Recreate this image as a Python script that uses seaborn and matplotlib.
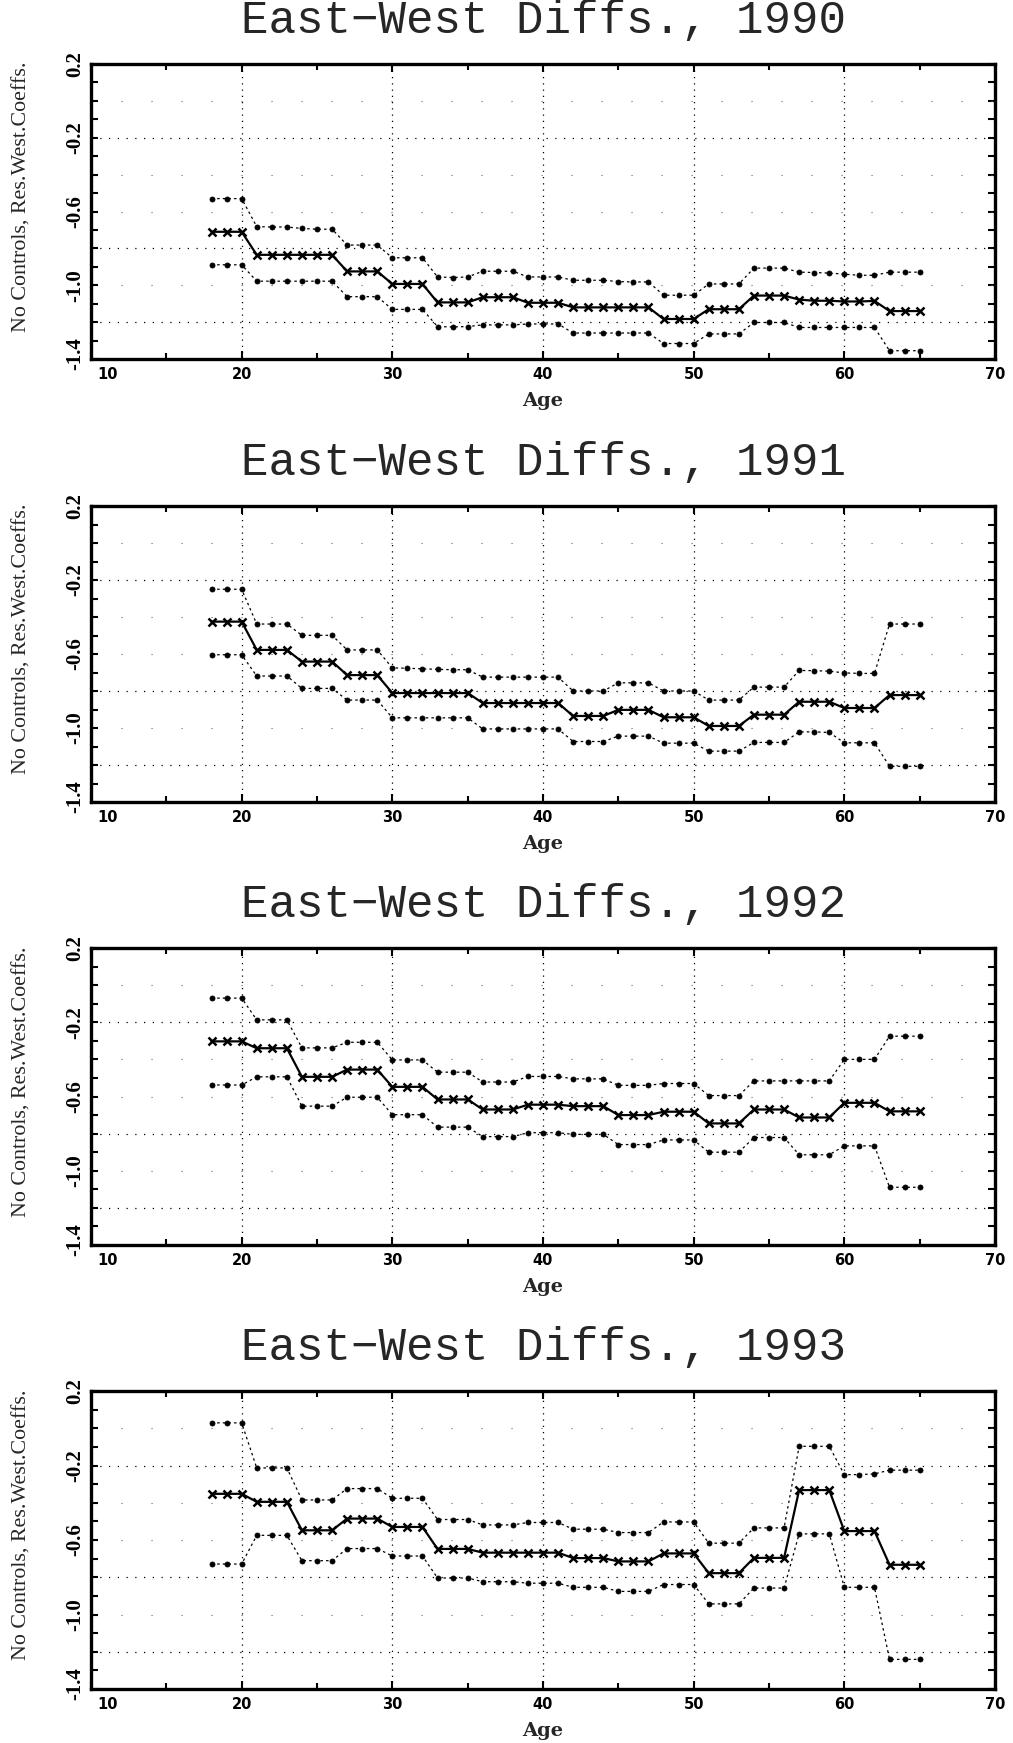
import matplotlib
matplotlib.use("Agg")
import matplotlib.pyplot as plt
from matplotlib.ticker import FixedLocator, MultipleLocator
from matplotlib.transforms import ScaledTranslation
import seaborn as sns

# ---------------------------------------------------------------------------
# East-West wage differentials by age: point estimate with upper/lower bounds
# ---------------------------------------------------------------------------
ages = list(range(18, 66))
years = [1990, 1991, 1992, 1993]

est_1990 = [-0.710, -0.710, -0.710,
            -0.835, -0.835, -0.835, -0.835, -0.835, -0.835,
            -0.925, -0.925, -0.925,
            -0.993, -0.993, -0.993,
            -1.093, -1.093, -1.093,
            -1.065, -1.065, -1.065,
            -1.095, -1.095, -1.095,
            -1.120, -1.120, -1.120, -1.120, -1.120, -1.120,
            -1.183, -1.183, -1.183,
            -1.130, -1.130, -1.130,
            -1.056, -1.056, -1.056,
            -1.078, -1.084, -1.084, -1.088, -1.088, -1.085,
            -1.140, -1.140, -1.140]
upper_1990 = [-0.530, -0.530, -0.530,
              -0.682, -0.684, -0.684, -0.692, -0.696, -0.696,
              -0.782, -0.782, -0.782,
              -0.851, -0.851, -0.851,
              -0.955, -0.958, -0.955,
              -0.924, -0.924, -0.924,
              -0.955, -0.955, -0.955,
              -0.973, -0.973, -0.973, -0.980, -0.982, -0.982,
              -1.054, -1.054, -1.054,
              -0.993, -0.993, -0.993,
              -0.907, -0.907, -0.907,
              -0.929, -0.931, -0.934, -0.940, -0.946, -0.946,
              -0.929, -0.929, -0.929]
lower_1990 = [-0.889, -0.889, -0.889,
              -0.978, -0.978, -0.978, -0.978, -0.978, -0.978,
              -1.062, -1.062, -1.062,
              -1.131, -1.131, -1.131,
              -1.224, -1.226, -1.224,
              -1.215, -1.215, -1.215,
              -1.210, -1.210, -1.210,
              -1.259, -1.259, -1.259, -1.259, -1.259, -1.259,
              -1.316, -1.316, -1.316,
              -1.264, -1.264, -1.264,
              -1.202, -1.202, -1.202,
              -1.229, -1.229, -1.229, -1.229, -1.229, -1.229,
              -1.355, -1.355, -1.355]

est_1991 = [-0.425, -0.425, -0.425,
            -0.578, -0.578, -0.578,
            -0.641, -0.641, -0.641,
            -0.714, -0.714, -0.714,
            -0.811, -0.811, -0.811, -0.811, -0.811, -0.811,
            -0.865, -0.865, -0.865, -0.865, -0.865, -0.865,
            -0.935, -0.935, -0.935,
            -0.902, -0.902, -0.902,
            -0.942, -0.942, -0.942,
            -0.989, -0.989, -0.989,
            -0.928, -0.928, -0.928,
            -0.858, -0.858, -0.858,
            -0.892, -0.892, -0.892,
            -0.822, -0.822, -0.822]
upper_1991 = [-0.250, -0.250, -0.250,
              -0.438, -0.438, -0.438,
              -0.499, -0.499, -0.499,
              -0.578, -0.578, -0.578,
              -0.675, -0.677, -0.680, -0.683, -0.685, -0.685,
              -0.725, -0.725, -0.725, -0.725, -0.725, -0.725,
              -0.800, -0.800, -0.800,
              -0.756, -0.756, -0.756,
              -0.800, -0.800, -0.800,
              -0.849, -0.849, -0.849,
              -0.779, -0.779, -0.779,
              -0.689, -0.690, -0.693,
              -0.702, -0.705, -0.705,
              -0.438, -0.438, -0.438]
lower_1991 = [-0.604, -0.604, -0.604,
              -0.719, -0.719, -0.719,
              -0.786, -0.786, -0.786,
              -0.849, -0.849, -0.849,
              -0.945, -0.945, -0.945, -0.945, -0.945, -0.945,
              -1.005, -1.005, -1.005, -1.005, -1.005, -1.005,
              -1.073, -1.073, -1.073,
              -1.044, -1.044, -1.044,
              -1.082, -1.082, -1.082,
              -1.125, -1.125, -1.125,
              -1.078, -1.078, -1.078,
              -1.021, -1.021, -1.024,
              -1.080, -1.080, -1.080,
              -1.207, -1.207, -1.207]

est_1992 = [-0.303, -0.303, -0.303,
            -0.340, -0.340, -0.340,
            -0.494, -0.494, -0.494,
            -0.455, -0.455, -0.455,
            -0.548, -0.548, -0.548,
            -0.616, -0.616, -0.616,
            -0.670, -0.670, -0.670,
            -0.644, -0.644, -0.644,
            -0.652, -0.652, -0.652,
            -0.700, -0.700, -0.700,
            -0.682, -0.682, -0.682,
            -0.745, -0.745, -0.745,
            -0.670, -0.670, -0.670,
            -0.713, -0.713, -0.713,
            -0.634, -0.634, -0.634,
            -0.680, -0.680, -0.680]
upper_1992 = [-0.070, -0.070, -0.070,
              -0.187, -0.187, -0.187,
              -0.338, -0.338, -0.338,
              -0.308, -0.308, -0.308,
              -0.403, -0.403, -0.403,
              -0.469, -0.469, -0.469,
              -0.522, -0.522, -0.522,
              -0.492, -0.492, -0.492,
              -0.505, -0.505, -0.505,
              -0.540, -0.540, -0.540,
              -0.530, -0.530, -0.530,
              -0.595, -0.595, -0.595,
              -0.516, -0.516, -0.516,
              -0.516, -0.516, -0.516,
              -0.400, -0.400, -0.400,
              -0.275, -0.275, -0.275]
lower_1992 = [-0.538, -0.538, -0.538,
              -0.494, -0.494, -0.494,
              -0.652, -0.652, -0.652,
              -0.604, -0.604, -0.604,
              -0.698, -0.698, -0.698,
              -0.765, -0.765, -0.765,
              -0.816, -0.816, -0.816,
              -0.795, -0.795, -0.795,
              -0.804, -0.804, -0.804,
              -0.859, -0.859, -0.859,
              -0.834, -0.834, -0.834,
              -0.900, -0.900, -0.900,
              -0.821, -0.821, -0.821,
              -0.914, -0.914, -0.914,
              -0.866, -0.866, -0.866,
              -1.089, -1.089, -1.089]

est_1993 = [-0.352, -0.352, -0.352,
            -0.395, -0.395, -0.395,
            -0.548, -0.548, -0.548,
            -0.485, -0.485, -0.485,
            -0.530, -0.530, -0.530,
            -0.648, -0.648, -0.648,
            -0.668, -0.668, -0.668,
            -0.668, -0.668, -0.668,
            -0.697, -0.697, -0.697,
            -0.715, -0.715, -0.715,
            -0.672, -0.672, -0.672,
            -0.778, -0.778, -0.778,
            -0.696, -0.696, -0.696,
            -0.332, -0.332, -0.332,
            -0.552, -0.552, -0.552,
            -0.733, -0.733, -0.733]
upper_1993 = [0.029, 0.029, 0.029,
              -0.213, -0.213, -0.213,
              -0.385, -0.385, -0.385,
              -0.324, -0.324, -0.324,
              -0.376, -0.376, -0.376,
              -0.490, -0.490, -0.490,
              -0.519, -0.519, -0.519,
              -0.506, -0.506, -0.506,
              -0.542, -0.542, -0.542,
              -0.560, -0.560, -0.560,
              -0.503, -0.503, -0.503,
              -0.617, -0.617, -0.617,
              -0.535, -0.535, -0.535,
              -0.097, -0.097, -0.097,
              -0.249, -0.249, -0.245,
              -0.225, -0.225, -0.225]
lower_1993 = [-0.729, -0.729, -0.729,
              -0.575, -0.575, -0.575,
              -0.711, -0.711, -0.711,
              -0.646, -0.646, -0.646,
              -0.686, -0.686, -0.686,
              -0.804, -0.804, -0.804,
              -0.824, -0.824, -0.824,
              -0.832, -0.832, -0.832,
              -0.854, -0.854, -0.854,
              -0.876, -0.876, -0.876,
              -0.839, -0.839, -0.839,
              -0.943, -0.943, -0.943,
              -0.858, -0.858, -0.858,
              -0.567, -0.567, -0.567,
              -0.854, -0.854, -0.854,
              -1.241, -1.241, -1.241]

estimates = {1990: est_1990, 1991: est_1991, 1992: est_1992, 1993: est_1993}
uppers = {1990: upper_1990, 1991: upper_1991, 1992: upper_1992, 1993: upper_1993}
lowers = {1990: lower_1990, 1991: lower_1991, 1992: lower_1992, 1993: lower_1993}

x_ticks = [10, 20, 30, 40, 50, 60, 70]
x_tick_labels = ["10", "20", "30", "40", "50", "60", "70"]
y_ticks = [0.2, -0.2, -0.6, -1.0, -1.4]
y_tick_labels = ["0.2", "-0.2", "-0.6", "-1.0", "-1.4"]
strong_grid_y = [-0.2, -0.8, -1.2]
faint_grid_y = [0.0, -0.4, -0.6, -1.0]
grid_x = [20, 30, 40, 50, 60]

title_text = "East\u2212West Diffs., {}"
y_label = "No Controls, Res.West.Coeffs."
x_label = "Age"

# ---------------------------------------------------------------------------
sns.set_style("ticks")
plt.rcParams["font.family"] = ["DejaVu Sans"]
plt.rcParams["axes.edgecolor"] = "black"

W, H = 1013, 1743
fig = plt.figure(figsize=(W / 100, H / 100), dpi=100)
fig.patch.set_facecolor("white")

panel_rows = [(64, 359), (506, 802), (948, 1245), (1391, 1689)]
left_px, right_px = 91, 995

for year, (top, bot) in zip(years, panel_rows):
    ax = fig.add_axes([left_px / W, 1 - bot / H,
                       (right_px - left_px) / W, (bot - top) / H])
    ax.set_facecolor("white")

    # dotted reference grid
    for gx in grid_x:
        ax.axvline(gx, color="black", lw=0.9, ls=(0, (1, 4)), zorder=1)
    for gy in strong_grid_y:
        ax.axhline(gy, color="black", lw=0.9, ls=(0, (1, 6)), zorder=1)
    for gy in faint_grid_y:
        ax.axhline(gy, color="0.4", lw=0.8, ls=(0, (1, 26)), zorder=1)

    # confidence bounds
    for band in (uppers[year], lowers[year]):
        sns.lineplot(x=ages, y=band, ax=ax, estimator=None, sort=False,
                     color="black", linewidth=0.9, linestyle=(0, (2, 2.5)),
                     marker="o", markersize=3.6, markeredgecolor="black",
                     markeredgewidth=0.6, zorder=3)
    # point estimate
    sns.lineplot(x=ages, y=estimates[year], ax=ax, estimator=None, sort=False,
                 color="black", linewidth=1.6, marker="x", markersize=6,
                 markeredgecolor="black", markeredgewidth=1.8, zorder=4)

    ax.set_xlim(10, 70)
    ax.set_ylim(-1.4, 0.2)

    ax.xaxis.set_major_locator(FixedLocator(x_ticks))
    ax.xaxis.set_minor_locator(MultipleLocator(5))
    ax.set_xticklabels(x_tick_labels, fontsize=10.5, fontweight="bold",
                       family=["DejaVu Sans"])
    ax.yaxis.set_major_locator(FixedLocator(y_ticks))
    ax.yaxis.set_minor_locator(MultipleLocator(0.1))
    ax.set_yticklabels(y_tick_labels, rotation=90, va="center",
                       fontsize=15, fontweight="bold",
                       family=["Liberation Serif", "DejaVu Serif"])

    ax.tick_params(axis="both", which="both", direction="in",
                   top=True, right=True, colors="black")
    ax.tick_params(axis="x", which="major", length=6, width=1.5, pad=6)
    ax.tick_params(axis="x", which="minor", length=4, width=1.5)
    ax.tick_params(axis="y", which="both", length=5, width=1.5, pad=4)

    # the corner label "10" sits just right of the corner, clear of "-1.4"
    first_x = ax.get_xticklabels()[0]
    first_x.set_transform(first_x.get_transform() +
                          ScaledTranslation(12 / 72, 0, fig.dpi_scale_trans))
    # "-1.4" rides slightly above the bottom corner
    last_y = ax.get_yticklabels()[-1]
    last_y.set_transform(last_y.get_transform() +
                         ScaledTranslation(0, 4 / 72, fig.dpi_scale_trans))

    for spine in ax.spines.values():
        spine.set_visible(True)
        spine.set_linewidth(2.4)
        spine.set_color("black")

    ax.set_xlabel(x_label, fontsize=14, fontweight="bold",
                  family=["DejaVu Serif"])
    ax.xaxis.set_label_coords(0.5, -0.112)
    ax.set_ylabel(y_label, fontsize=15.8,
                  family=["Liberation Serif", "DejaVu Serif"])
    ax.yaxis.set_label_coords(-0.066, 0.55)

    ax.text(0.5, 1 + 43 / (bot - top), title_text.format(year),
            transform=ax.transAxes, ha="center", va="center",
            fontsize=33, family=["Liberation Mono", "DejaVu Sans Mono"])

fig.savefig("out.png", dpi=100, facecolor="white")
